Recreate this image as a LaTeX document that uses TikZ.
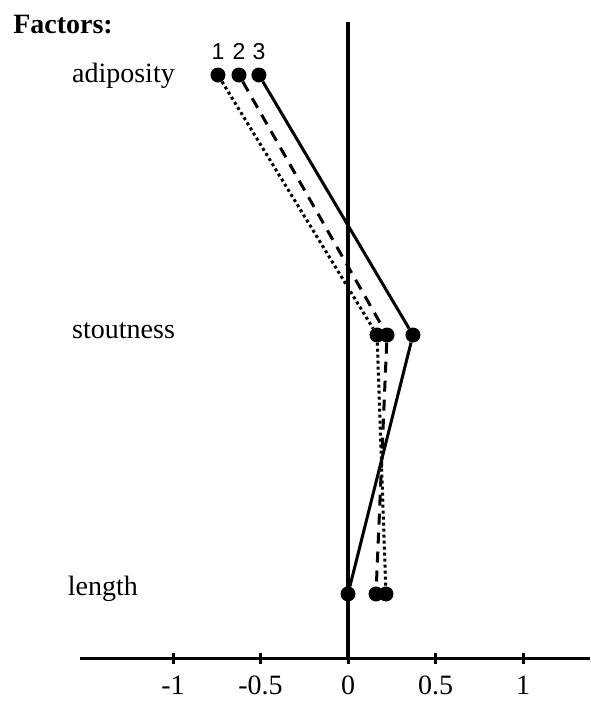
\documentclass[tikz,border=0pt]{standalone}
\usepackage{fontspec}
\setmainfont{Liberation Serif}
\newfontfamily\digitfont{Liberation Sans}

\begin{document}
\begin{tikzpicture}[x=175pt,y=-260pt,
    dot/.style={circle,fill=black,inner sep=0pt,minimum size=15pt},
    factor/.style={font=\fontsize{28}{30}\selectfont,inner sep=0pt},
    num/.style={font=\digitfont\fontsize{23}{25}\selectfont,inner sep=0pt,anchor=base}]
        \useasboundingbox (-1.9886,-0.2885) rectangle (1.3829,2.4115);
        % Title and factor names
        \node[factor,anchor=base west] (title) at (-1.914,-0.1615) {\bfseries Factors:};
        \node[factor,anchor=base east] (adip) at (-0.9886,0.027) {adiposity};
        \node[factor,anchor=base west] (stout) at (-1.577,1.0115) {stoutness};
        \node[factor,anchor=base east] (len) at (-1.2,2.0) {length};
        % Axes
        \draw[line width=4pt] (0,-0.2038) -- (0,2.2423);
        \draw[line width=3pt] (-1.531,2.2423) -- (1.3829,2.2423);
        \foreach \x in {-1,-0.5,0,0.5,1} {
            \draw[line width=3pt] (\x,2.2423) ++(0,5pt) -- ++(0,-11pt);
            \node[factor,anchor=base] (tick\x) at (\x,2.382) {\x};
        }
        % Loadings of the three factors
        \foreach \n/\a/\s/\l in {1/-0.743/0.166/0.217, 2/-0.623/0.223/0.16, 3/-0.509/0.371/0.0} {
            \node[dot] (a\n) at (\a,0) {};
            \node[dot] (s\n) at (\s,1) {};
            \node[dot] (l\n) at (\l,1.996) {};
            \node[num] (n\n) at (\a,-0.0615) {\n};
        }
        \draw[line width=3pt,dash pattern=on 3pt off 3pt] (a1) -- (s1) -- (l1);
        \draw[line width=3pt,dash pattern=on 11pt off 8pt] (a2) -- (s2) -- (l2);
        \draw[line width=3pt] (a3) -- (s3) -- (l3);
    \end{tikzpicture}
\end{document}
